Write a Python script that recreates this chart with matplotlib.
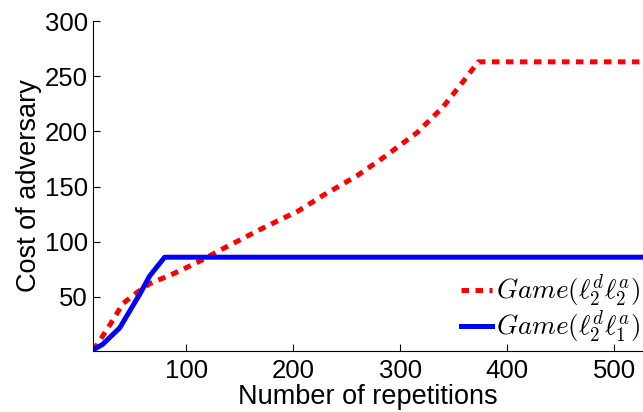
import matplotlib.pyplot as plt

plt.rcParams['font.family'] = ['Liberation Sans', 'DejaVu Sans']
plt.rcParams['mathtext.fontset'] = 'cm'

# cost curves for the two game variants
reps_l2l2 = [13, 15, 29, 41, 54, 66, 88, 110, 135, 171, 205, 228, 260, 284, 316, 340, 358, 373, 530]
cost_l2l2 = [2, 4, 25, 44, 54, 62, 71, 81, 94, 112, 128, 142, 160, 176, 199, 222, 244, 263, 263]

reps_l2l1 = [13, 22, 38, 57, 66, 80, 530]
cost_l2l1 = [2, 7, 22, 53, 69, 86, 86]

xticks = [100, 200, 300, 400, 500]
yticks = [50, 100, 150, 200, 250, 300]

fig = plt.figure(figsize=(6.43, 4.12), dpi=100)
ax = fig.add_axes([0.1446, 0.148, 0.8554, 0.801])

ax.plot(reps_l2l2, cost_l2l2, color='#ff0000', lw=3.6, linestyle=(0, (1.5, 1.3)),
        label=r'$Game(\ell_2^d\ell_2^a)$')
ax.plot(reps_l2l1, cost_l2l1, color='#0000ff', lw=3.6,
        label=r'$Game(\ell_2^d\ell_1^a)$')

ax.set_xlim(13, 527)
ax.set_ylim(1, 300)
ax.set_xticks(xticks)
ax.set_yticks(yticks)
ax.tick_params(direction='in', labelsize=18.5, length=5)
ax.tick_params(axis='x', pad=6)
ax.spines['top'].set_visible(False)
ax.spines['right'].set_visible(False)

ax.set_xlabel('Number of repetitions', fontsize=19.5, labelpad=0.5)
ax.set_ylabel('Cost of adversary', fontsize=19.5, labelpad=2)

ax.legend(loc='lower right', bbox_to_anchor=(1.015, -0.015), frameon=False, fontsize=19.5,
          handlelength=1.15, handletextpad=0.15, labelspacing=0.0, borderaxespad=0.0)

fig.savefig('out.png', dpi=100)
